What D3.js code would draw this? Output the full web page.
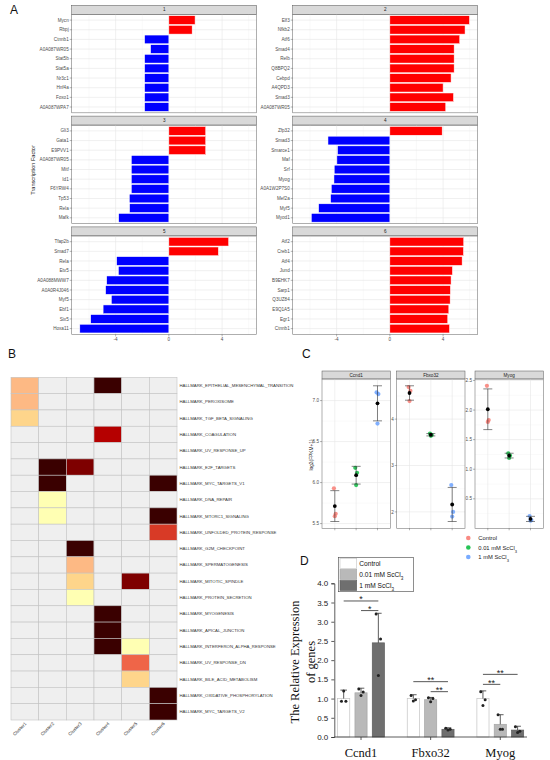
<!DOCTYPE html>
<html lang="en">
<head>
<meta charset="UTF-8">
<title>Figure</title>
<style>
    body { margin: 0; background: #fff; }
    svg { display: block; font-family: "Liberation Sans", Arial, sans-serif; }
</style>
</head>
<body>
<div id="chart"></div>
<script src="https://d3js.org/d3.v7.min.js"></script>
<script>
// ---------- Panel A: transcription factor scores per cluster ----------
const tfFacets = ["1", "2", "3", "4", "5", "6"];
const tfNames1 = ["Mycn", "Rbpj", "Ctnnb1", "A0A087WR05", "Stat5b", "Stat5a", "Nr3c1", "Hnf4a", "Foxo1", "A0A087WPA7"];
const tfValues1 = [1.97, 1.75, -1.82, -1.37, -1.82, -1.82, -1.82, -1.82, -1.82, -1.82];
const tfNames2 = ["Elf3", "Nfkb2", "Atf6", "Smad4", "Relb", "Q8BPQ2", "Cebpd", "A4QPD3", "Smad3", "A0A087WR05"];
const tfValues2 = [5.98, 5.65, 5.25, 4.83, 4.83, 4.83, 4.6, 4.0, 4.78, 4.2];
const tfNames3 = ["Gli3", "Gata1", "E9PVV1", "A0A087WR05", "Mitf", "Id1", "F6YRW4", "Tp53", "Rela", "Mafk"];
const tfValues3 = [2.77, 2.77, 2.77, -2.82, -2.82, -2.82, -2.82, -2.97, -2.95, -3.77];
const tfNames4 = ["Zfp32", "Smad3", "Smarce1", "Maf", "Srf", "Myog", "A0A1W2P7S0", "Mef2a", "Myf5", "Myod1"];
const tfValues4 = [3.93, -4.65, -3.93, -3.98, -4.18, -4.2, -4.4, -4.45, -5.35, -5.9];
const tfNames5 = ["Tfap2b", "Smad7", "Rela", "Etv5", "A0A088MWW7", "A0A0R4J046", "Myf5", "Ebf1", "Six5", "Hoxa11"];
const tfValues5 = [4.49, 3.72, -3.92, -3.79, -4.67, -4.75, -4.32, -4.94, -5.87, -6.69];
const tfNames6 = ["Atf2", "Creb1", "Atf4", "Jund", "B9EHK7", "Sarp1", "Q3UZ84", "E9Q1A5", "Egr1", "Ctnnb1"];
const tfValues6 = [5.55, 5.53, 5.43, 4.7, 4.6, 4.55, 4.53, 4.43, 4.35, 4.48];
const tfTicks = [-4, 0, 4];

// ---------- Panel B: hallmark enrichment heatmap ----------
const hmRows = ["HALLMARK_EPITHELIAL_MESENCHYMAL_TRANSITION", "HALLMARK_PEROXISOME", "HALLMARK_TGF_BETA_SIGNALING",
    "HALLMARK_COAGULATION", "HALLMARK_UV_RESPONSE_UP", "HALLMARK_E2F_TARGETS", "HALLMARK_MYC_TARGETS_V1",
    "HALLMARK_DNA_REPAIR", "HALLMARK_MTORC1_SIGNALING", "HALLMARK_UNFOLDED_PROTEIN_RESPONSE", "HALLMARK_G2M_CHECKPOINT",
    "HALLMARK_SPERMATOGENESIS", "HALLMARK_MITOTIC_SPINDLE", "HALLMARK_PROTEIN_SECRETION", "HALLMARK_MYOGENESIS",
    "HALLMARK_APICAL_JUNCTION", "HALLMARK_INTERFERON_ALPHA_RESPONSE", "HALLMARK_UV_RESPONSE_DN",
    "HALLMARK_BILE_ACID_METABOLISM", "HALLMARK_OXIDATIVE_PHOSPHORYLATION", "HALLMARK_MYC_TARGETS_V2"];
const hmCols = ["Cluster1", "Cluster2", "Cluster3", "Cluster4", "Cluster5", "Cluster6"];
// enrichment score (0 = not enriched)
const hmCluster1 = [0.32, 0.32, 0.22, 0, 0, 0, 0, 0, 0, 0, 0, 0, 0, 0, 0, 0, 0, 0, 0, 0, 0];
const hmCluster2 = [0, 0, 0, 0, 0, 1, 1, 0.03, 0.03, 0, 0, 0, 0, 0, 0, 0, 0, 0, 0, 0, 0];
const hmCluster3 = [0, 0, 0, 0, 0, 0.87, 0, 0, 0, 0, 1, 0.32, 0.22, 0.03, 0, 0, 0, 0, 0, 0, 0];
const hmCluster4 = [1, 0, 0, 0.75, 0, 0, 0, 0, 0, 0, 0, 0, 0, 0, 1, 1, 1, 0, 0, 0, 0];
const hmCluster5 = [0, 0, 0, 0, 0, 0, 0, 0, 0, 0, 0, 0, 0.87, 0, 0, 0, 0.03, 0.5, 0.22, 0, 0];
const hmCluster6 = [0, 0, 0, 0, 0, 0, 1, 0, 1, 0.6, 0, 0, 0, 0, 0, 0, 0, 0, 0, 1, 1];

// ---------- Panel C: RNA-seq expression ----------
const cGenes = ["Ccnd1", "Fbxo32", "Myog"];
const cGroups = ["Control", "0.01 mM ScCl3", "1 mM ScCl3"];
const cCcnd1 = [[5.93, 5.62, 5.59], [6.18, 6.12, 5.97], [7.10, 7.08, 6.72]];
const cFbxo32 = [[4.69, 4.61, 4.39], [3.69, 3.66, 3.64], [2.58, 2.00, 1.90]];
const cMyog = [[2.41, 1.83, 1.80], [1.27, 1.23, 1.19], [0.21, 0.14, 0.13]];
const cTicks = [[5.5, 6.0, 6.5, 7.0], [2, 3, 4], [0.5, 1.0, 1.5, 2.0, 2.5]];
const cTickFormats = [".1f", "d", ".1f"];
const cColors = ["#F8766D", "#00BA38", "#619CFF"];

// ---------- Panel D: qPCR ----------
const dGenes = ["Ccnd1", "Fbxo32", "Myog"];
const dMeans = [[1.0, 1.15, 2.45], [1.0, 0.97, 0.20], [1.0, 0.33, 0.18]];
const dErrors = [[0.22, 0.12, 0.77], [0.10, 0.06, 0.04], [0.20, 0.25, 0.10]];
const dPoints = [
    [[0.93, 0.93, 1.20], [1.25, 1.17, 1.08], [3.20, 2.55, 1.60]],
    [[1.08, 0.97, 0.94], [1.02, 1.00, 0.92], [0.23, 0.20, 0.18]],
    [[1.18, 0.97, 0.82], [0.58, 0.20, 0.20], [0.27, 0.15, 0.12]]
];
const dTicks = [0, 0.5, 1.0, 1.5, 2.0, 2.5, 3.0, 3.5, 4.0];
const dSigGene = ["Ccnd1", "Ccnd1", "Fbxo32", "Fbxo32", "Myog", "Myog"];
const dSigFrom = ["Control", "0.01 mM ScCl3", "Control", "0.01 mM ScCl3", "Control", "Control"];
const dSigTo = ["1 mM ScCl3", "1 mM ScCl3", "1 mM ScCl3", "1 mM ScCl3", "1 mM ScCl3", "0.01 mM ScCl3"];
const dSigY = [3.54, 3.29, 1.44, 1.18, 1.63, 1.37];
const dSigLabel = ["*", "*", "**", "**", "**", "**"];
const dFills = ["#ffffff", "#b9b9b9", "#6f6f6f"];
const dStrokes = ["#c4c4c4", "#a6a6a6", "#5c5c5c"];

const svg = d3.select('#chart').append('svg')
    .attr('width', 550)
    .attr('height', 760);

// helper: label "ScCl3" with subscript
function groupLabel(sel, name) {
    const m = name.match(/^(.*ScCl)3$/);
    if (!m) { sel.text(name); return; }
    sel.append('tspan').text(m[1]);
    sel.append('tspan').attr('baseline-shift', 'sub').attr('font-size', '70%').text('3');
}

// panel letters
[["A", 10, 14], ["B", 8, 358], ["C", 302, 358], ["D", 300, 565]].forEach(([t, x, y]) => {
    svg.append('text').attr('x', x).attr('y', y).attr('font-size', 12).attr('fill', '#111').text(t);
});

// ================= Panel A =================
const tfNames = [tfNames1, tfNames2, tfNames3, tfNames4, tfNames5, tfNames6];
const tfValues = [tfValues1, tfValues2, tfValues3, tfValues4, tfValues5, tfValues6];
const aCols = [71.7, 292.7];
const aRows = [5.3, 116.1, 226.9];
const aW = 185, aStripH = 9, aBodyH = 98.5;
const xA = d3.scaleLinear().domain([-7.3, 6.6]).range([0, aW]);

tfFacets.forEach((f, i) => {
    const names = tfNames[i];
    const vals = tfValues[i];
    const g = svg.append('g')
        .attr('transform', `translate(${aCols[i % 2]},${aRows[Math.floor(i / 2)]})`);

    // strip
    g.append('rect')
        .attr('width', aW).attr('height', aStripH)
        .attr('fill', '#d9d9d9').attr('stroke', '#555').attr('stroke-width', 0.5);
    g.append('text')
        .attr('x', aW / 2).attr('y', aStripH / 2 + 1.6)
        .attr('text-anchor', 'middle').attr('font-size', 4.6).attr('fill', '#1a1a1a')
        .text(f);

    const body = g.append('g').attr('transform', `translate(0,${aStripH})`);
    const yA = d3.scalePoint().domain(names).range([0, aBodyH]).padding(0.6);

    // grid
    body.selectAll('.minor').data([-6, -2, 2, 6]).enter().append('line')
        .attr('x1', d => xA(d)).attr('x2', d => xA(d))
        .attr('y1', 0).attr('y2', aBodyH)
        .attr('stroke', '#f0f0f0').attr('stroke-width', 0.4);
    body.selectAll('.major').data(tfTicks).enter().append('line')
        .attr('x1', d => xA(d)).attr('x2', d => xA(d))
        .attr('y1', 0).attr('y2', aBodyH)
        .attr('stroke', '#e6e6e6').attr('stroke-width', 0.6);
    body.selectAll('.hgrid').data(names).enter().append('line')
        .attr('x1', 0).attr('x2', aW)
        .attr('y1', d => yA(d)).attr('y2', d => yA(d))
        .attr('stroke', '#e6e6e6').attr('stroke-width', 0.6);

    // bars
    const bh = yA.step() * 0.9;
    body.selectAll('.bar').data(names).enter().append('rect')
        .attr('x', (d, j) => xA(Math.min(0, vals[j])))
        .attr('y', d => yA(d) - bh / 2)
        .attr('width', (d, j) => Math.abs(xA(vals[j]) - xA(0)))
        .attr('height', bh)
        .attr('fill', (d, j) => vals[j] > 0 ? '#ff0000' : '#0000ff')
        .attr('stroke', '#ffffff').attr('stroke-width', 0.5);

    // border
    body.append('rect')
        .attr('width', aW).attr('height', aBodyH)
        .attr('fill', 'none').attr('stroke', '#7a7a7a').attr('stroke-width', 0.6);

    // y axis labels
    body.selectAll('.ytick').data(names).enter().append('line')
        .attr('x1', -2).attr('x2', 0)
        .attr('y1', d => yA(d)).attr('y2', d => yA(d))
        .attr('stroke', '#444').attr('stroke-width', 0.4);
    body.selectAll('.ylab').data(names).enter().append('text')
        .attr('x', -3).attr('y', d => yA(d) + 1.6)
        .attr('text-anchor', 'end').attr('font-size', 4.6).attr('fill', '#4d4d4d')
        .text(d => d);

    // x axis only on the bottom row
    if (Math.floor(i / 2) === 2) {
        body.selectAll('.xtick').data(tfTicks).enter().append('line')
            .attr('x1', d => xA(d)).attr('x2', d => xA(d))
            .attr('y1', aBodyH).attr('y2', aBodyH + 2)
            .attr('stroke', '#444').attr('stroke-width', 0.4);
        body.selectAll('.xlab').data(tfTicks).enter().append('text')
            .attr('x', d => xA(d)).attr('y', aBodyH + 7)
            .attr('text-anchor', 'middle').attr('font-size', 4.6).attr('fill', '#4d4d4d')
            .text(d => d);
    }
});

svg.append('text')
    .attr('transform', 'translate(35,170) rotate(-90)')
    .attr('text-anchor', 'middle').attr('font-size', 5.6).attr('fill', '#111')
    .text('Transcription Factor');

// ================= Panel B =================
const hmData = [hmCluster1, hmCluster2, hmCluster3, hmCluster4, hmCluster5, hmCluster6];
const hmColor = d3.scaleLinear()
    .domain([0.03, 0.22, 0.32, 0.5, 0.6, 0.75, 0.87, 1])
    .range(["#ffffb3", "#fed58b", "#fdb984", "#ef6548", "#d83a26", "#b50000", "#7e0000", "#3a0000"]);
const xB = d3.scaleBand().domain(hmCols).range([11, 177]);
const yB = d3.scaleBand().domain(hmRows).range([377.3, 720]);

const cells = [];
hmCols.forEach((c, ci) => hmRows.forEach((r, ri) => cells.push({ c, r, v: hmData[ci][ri] })));
svg.append('g').selectAll('rect').data(cells).enter().append('rect')
    .attr('x', d => xB(d.c)).attr('y', d => yB(d.r))
    .attr('width', xB.bandwidth()).attr('height', yB.bandwidth())
    .attr('fill', d => d.v > 0 ? hmColor(d.v) : '#efefef')
    .attr('stroke', '#c3c3c3').attr('stroke-width', 0.6);

svg.append('g').selectAll('text').data(hmRows).enter().append('text')
    .attr('x', 179.5).attr('y', d => yB(d) + yB.bandwidth() / 2 + 1.5)
    .attr('font-size', 4.3).attr('fill', '#333')
    .text(d => d);

svg.append('g').selectAll('text').data(hmCols).enter().append('text')
    .attr('transform', d => `translate(${xB(d) + xB.bandwidth() / 2 + 2},${724}) rotate(-45)`)
    .attr('text-anchor', 'end').attr('font-size', 4.6).attr('fill', '#333')
    .text(d => d);

// ================= Panel C =================
const cData = [cCcnd1, cFbxo32, cMyog];
const cLefts = [322, 396.7, 475];
const cW = 68.3, cTop = 371, cStripH = 8, cBodyH = 149.3;
const cJitter = [-0.9, 0.9, 0];

cGenes.forEach((gene, i) => {
    const pts = cData[i];
    const stats = pts.map(p => ({ m: d3.mean(p), s: d3.deviation(p) }));
    const lo = d3.min([...pts.flat(), ...stats.map(s => s.m - s.s)]);
    const hi = d3.max([...pts.flat(), ...stats.map(s => s.m + s.s)]);
    const pad = (hi - lo) * 0.05;
    const y = d3.scaleLinear().domain([lo - pad, hi + pad]).range([cBodyH, 0]);
    const x = d3.scalePoint().domain(cGroups).range([0, cW]).padding(0.6);

    const g = svg.append('g').attr('transform', `translate(${cLefts[i]},${cTop})`);
    g.append('rect')
        .attr('width', cW).attr('height', cStripH)
        .attr('fill', '#d9d9d9').attr('stroke', '#555').attr('stroke-width', 0.5);
    g.append('text')
        .attr('x', cW / 2).attr('y', cStripH / 2 + 1.6)
        .attr('text-anchor', 'middle').attr('font-size', 4.6).attr('fill', '#1a1a1a')
        .text(gene);

    const body = g.append('g').attr('transform', `translate(0,${cStripH})`);
    const ticks = cTicks[i];
    const step = ticks[1] - ticks[0];
    const minor = [ticks[0] - step / 2, ...ticks.map(t => t + step / 2)]
        .filter(v => v > y.domain()[0] && v < y.domain()[1]);

    body.selectAll('.minor').data(minor).enter().append('line')
        .attr('x1', 0).attr('x2', cW).attr('y1', d => y(d)).attr('y2', d => y(d))
        .attr('stroke', '#f2f2f2').attr('stroke-width', 0.4);
    body.selectAll('.major').data(ticks).enter().append('line')
        .attr('x1', 0).attr('x2', cW).attr('y1', d => y(d)).attr('y2', d => y(d))
        .attr('stroke', '#e6e6e6').attr('stroke-width', 0.6);
    body.selectAll('.vgrid').data(cGroups).enter().append('line')
        .attr('x1', d => x(d)).attr('x2', d => x(d)).attr('y1', 0).attr('y2', cBodyH)
        .attr('stroke', '#e6e6e6').attr('stroke-width', 0.6);

    // raw points
    cGroups.forEach((grp, gi) => {
        body.selectAll(null).data(pts[gi]).enter().append('circle')
            .attr('cx', (d, k) => x(grp) + cJitter[k])
            .attr('cy', d => y(d))
            .attr('r', 2.1)
            .attr('fill', cColors[gi]).attr('fill-opacity', 0.8);
    });

    // mean +/- sd
    body.selectAll('.err').data(stats).enter().append('path')
        .attr('d', (d, gi) => {
            const cx = x(cGroups[gi]), y0 = y(d.m - d.s), y1 = y(d.m + d.s);
            return `M${cx - 4.5},${y1}H${cx + 4.5}M${cx},${y1}V${y0}M${cx - 4.5},${y0}H${cx + 4.5}`;
        })
        .attr('fill', 'none').attr('stroke', '#333').attr('stroke-width', 0.6);
    body.selectAll('.mean').data(stats).enter().append('circle')
        .attr('cx', (d, gi) => x(cGroups[gi])).attr('cy', d => y(d.m))
        .attr('r', 1.9).attr('fill', '#000');

    body.append('rect')
        .attr('width', cW).attr('height', cBodyH)
        .attr('fill', 'none').attr('stroke', '#7a7a7a').attr('stroke-width', 0.6);

    const fmt = d3.format(cTickFormats[i]);
    body.selectAll('.ytick').data(ticks).enter().append('line')
        .attr('x1', -2).attr('x2', 0).attr('y1', d => y(d)).attr('y2', d => y(d))
        .attr('stroke', '#444').attr('stroke-width', 0.4);
    body.selectAll('.ylab').data(ticks).enter().append('text')
        .attr('x', -3).attr('y', d => y(d) + 1.6)
        .attr('text-anchor', 'end').attr('font-size', 4.6).attr('fill', '#4d4d4d')
        .text(d => fmt(d));
    body.selectAll('.xtick').data(cGroups).enter().append('line')
        .attr('x1', d => x(d)).attr('x2', d => x(d)).attr('y1', cBodyH).attr('y2', cBodyH + 2)
        .attr('stroke', '#444').attr('stroke-width', 0.4);
});

svg.append('text')
    .attr('transform', 'translate(313,455) rotate(-90)')
    .attr('text-anchor', 'middle').attr('font-size', 4.8).attr('fill', '#222')
    .text('log2(FPKM+1)');

// legend C
const cLegY = [538, 547.5, 557];
cGroups.forEach((grp, gi) => {
    svg.append('circle').attr('cx', 468.3).attr('cy', cLegY[gi]).attr('r', 2.3)
        .attr('fill', cColors[gi]).attr('fill-opacity', 0.85);
    const t = svg.append('text').attr('x', 478.3).attr('y', cLegY[gi] + 2)
        .attr('font-size', 5.8).attr('fill', '#1a1a1a');
    groupLabel(t, grp);
});

// ================= Panel D =================
const yD = d3.scaleLinear().domain([0, 4]).range([737, 583.3]);
const xD = d3.scaleBand().domain(dGenes).range([326.2, 535.1]);
const xInner = d3.scaleBand().domain(cGroups).range([-26, 26]).paddingInner(0.3).paddingOuter(0.15);
const dJitter = [-2.2, 2.2, 0];
const gD = svg.append('g');

dGenes.forEach((gene, i) => {
    const cx0 = xD(gene) + xD.bandwidth() / 2;
    cGroups.forEach((grp, gi) => {
        const bx = cx0 + xInner(grp);
        const mid = bx + xInner.bandwidth() / 2;
        gD.append('rect')
            .attr('x', bx).attr('y', yD(dMeans[i][gi]))
            .attr('width', xInner.bandwidth()).attr('height', yD(0) - yD(dMeans[i][gi]))
            .attr('fill', dFills[gi]).attr('stroke', dStrokes[gi]).attr('stroke-width', 0.7);
        const top = dMeans[i][gi] + dErrors[i][gi];
        gD.append('path')
            .attr('d', `M${mid},${yD(dMeans[i][gi])}V${yD(top)}M${mid - 3.3},${yD(top)}H${mid + 3.3}`)
            .attr('fill', 'none').attr('stroke', '#333').attr('stroke-width', 0.8);
        gD.selectAll(null).data(dPoints[i][gi]).enter().append('circle')
            .attr('cx', (d, k) => mid + dJitter[k])
            .attr('cy', d => yD(d))
            .attr('r', 1.5).attr('fill', '#222');
    });
});

// significance brackets
dSigGene.forEach((gene, k) => {
    const cx0 = xD(gene) + xD.bandwidth() / 2 + xInner.bandwidth() / 2;
    const x1 = cx0 + xInner(dSigFrom[k]);
    const x2 = cx0 + xInner(dSigTo[k]);
    const yy = yD(dSigY[k]);
    gD.append('line').attr('x1', x1).attr('x2', x2).attr('y1', yy).attr('y2', yy)
        .attr('stroke', '#444').attr('stroke-width', 0.9);
    gD.append('text').attr('x', (x1 + x2) / 2).attr('y', yy + 1.5)
        .attr('text-anchor', 'middle').attr('font-size', 9).attr('fill', '#222')
        .text(dSigLabel[k]);
});

// axes D
const axD = d3.axisLeft(yD).tickValues(dTicks).tickFormat(d3.format('.1f')).tickSize(3);
const axG = svg.append('g').attr('transform', 'translate(334.3,0)').call(axD);
axG.select('.domain').attr('stroke', '#333').attr('stroke-width', 0.8);
axG.selectAll('.tick line').attr('stroke', '#333').attr('stroke-width', 0.8);
axG.selectAll('.tick text').attr('font-size', 8).attr('fill', '#222')
    .attr('font-family', '"Liberation Sans", Arial, sans-serif');

svg.append('line').attr('x1', 334.3).attr('x2', 527).attr('y1', 737).attr('y2', 737)
    .attr('stroke', '#333').attr('stroke-width', 0.8);
svg.selectAll('.dxtick').data(dGenes).enter().append('line')
    .attr('x1', d => xD(d) + xD.bandwidth() / 2).attr('x2', d => xD(d) + xD.bandwidth() / 2)
    .attr('y1', 737).attr('y2', 740)
    .attr('stroke', '#333').attr('stroke-width', 0.8);
svg.selectAll('.dxlab').data(dGenes).enter().append('text')
    .attr('x', d => xD(d) + xD.bandwidth() / 2).attr('y', 756.5)
    .attr('text-anchor', 'middle').attr('font-size', 12.5)
    .attr('font-family', '"Liberation Serif", "Times New Roman", serif').attr('fill', '#111')
    .text(d => d);

const dTitle = svg.append('text')
    .attr('transform', 'translate(298.5,662) rotate(-90)')
    .attr('text-anchor', 'middle').attr('font-size', 12.5)
    .attr('font-family', '"Liberation Serif", "Times New Roman", serif').attr('fill', '#111');
dTitle.append('tspan').attr('x', 0).attr('y', 0).text('The Relative Expression');
dTitle.append('tspan').attr('x', 0).attr('y', 16.5).text('of genes');

// legend D
svg.append('rect').attr('x', 338.3).attr('y', 557.3).attr('width', 75).attr('height', 34.4)
    .attr('fill', '#fff').attr('stroke', '#444').attr('stroke-width', 0.6);
cGroups.forEach((grp, gi) => {
    const yy = 558.5 + gi * 11;
    svg.append('rect').attr('x', 340).attr('y', yy).attr('width', 16.7).attr('height', 10)
        .attr('fill', dFills[gi]).attr('stroke', dStrokes[gi]).attr('stroke-width', 0.6);
    const t = svg.append('text').attr('x', 359.3).attr('y', yy + 7.2)
        .attr('font-size', 6.6).attr('fill', '#111');
    groupLabel(t, grp);
});
</script>
</body>
</html>
